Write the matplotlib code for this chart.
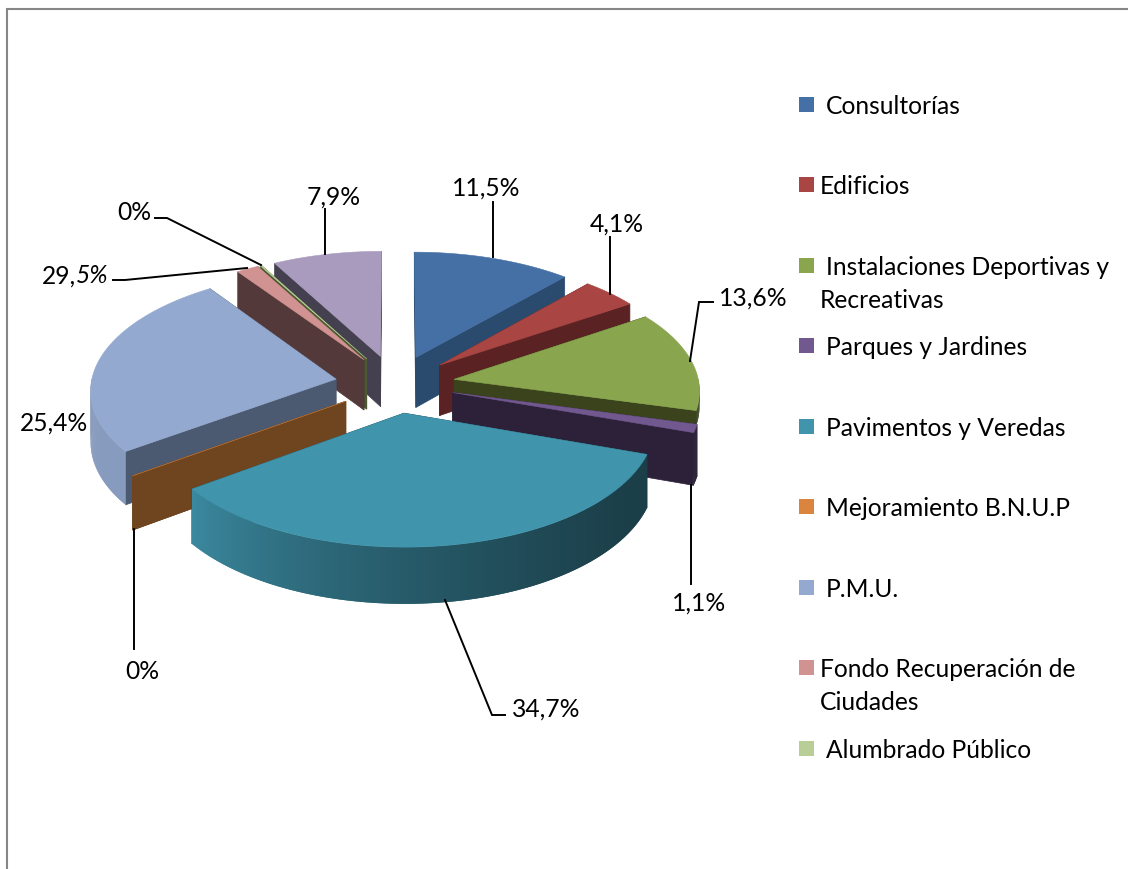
import numpy as np
import matplotlib
matplotlib.use("Agg")
import matplotlib.pyplot as plt
from matplotlib.colors import to_rgb
from matplotlib.patches import Polygon, Rectangle

plt.rcParams["font.family"] = ["Lato", "DejaVu Sans"]

# -----------------------------------------
# data
# -----------------------------------------
categories = [
    "Consultorías",
    "Edificios",
    "Instalaciones Deportivas y\nRecreativas",
    "Parques y Jardines",
    "Pavimentos y Veredas",
    "Mejoramiento B.N.U.P",
    "P.M.U.",
    "Fondo Recuperación de\nCiudades",
    "Alumbrado Público",
]
# share drawn for each slice (the last slice has no legend entry)
values = [11.5, 4.1, 13.6, 1.1, 34.7, 0.0, 25.4, 1.6, 0.1, 7.9]
top_colors = ["#4470A5", "#A94543", "#89A54E", "#71588F", "#4095AD",
              "#DB843D", "#93A9CF", "#D19392", "#B9CD96", "#A99BBD"]
side_colors = ["#2A4A6E", "#5A2222", "#3A431C", "#2C2139", "#1B3D49",
               "#6F4520", "#4B5A70", "#533939", "#4A5A30", "#45404F"]
# back to front
draw_order = [9, 8, 7, 0, 1, 2, 3, 6, 5, 4]

# -----------------------------------------
# pie geometry, all in pixels
# -----------------------------------------
cx, cy = 395, 385
rx, ry = 245, 118
persp = 0.0815
explode = 0.245
depth = 51
# the green rim ends on top of the purple slice
rim_depth = {2: 15}


def project(x, y, z=0.0):
    f = 1 / (1 + persp * y)
    return cx + rx * x * f, cy - ry * y * f + z * f


def shade(color, theta):
    # the rim is lit from the left
    t = np.clip((theta - 115) / (234 - 115), 0, 1)
    factor = 0.42 + 0.5 * t ** 1.6
    return tuple(c * factor for c in to_rgb(color))


fig = plt.figure(figsize=(11.28, 8.7), dpi=100)
ax = fig.add_axes([0, 0, 1, 1])
ax.set_xlim(0, 1128)
ax.set_ylim(870, 0)
ax.axis("off")

# frame, only top and left are visible
ax.plot([7, 7, 1128], [870, 10, 10], color="#868686", lw=1.5, solid_joinstyle="miter")

edges = np.cumsum([0] + values) / 100 * 360

for i in draw_order:
    start, end = edges[i], edges[i + 1]
    mid = np.radians((start + end) / 2)
    ox, oy = explode * np.sin(mid), explode * np.cos(mid)
    thetas = np.linspace(start, end, max(int(end - start) * 2, 2))
    xs = ox + np.sin(np.radians(thetas))
    ys = oy + np.cos(np.radians(thetas))

    # cut faces
    for k in (0, -1):
        face = [project(ox, oy), project(xs[k], ys[k]),
                project(xs[k], ys[k], depth), project(ox, oy, depth)]
        ax.add_patch(Polygon(face, fc=side_colors[i], ec=side_colors[i], lw=0.5))

    # rim, only the part turned to the viewer
    # each quad runs over the next one so no seams show
    rim = rim_depth.get(i, depth)
    for j in range(len(thetas) - 1):
        if thetas[j + 1] < 90 or thetas[j] > 270:
            continue
        n = min(j + 2, len(thetas) - 1)
        quad = [project(xs[j], ys[j]), project(xs[n], ys[n]),
                project(xs[n], ys[n], rim), project(xs[j], ys[j], rim)]
        c = shade(top_colors[i], (thetas[j] + thetas[j + 1]) / 2)
        ax.add_patch(Polygon(quad, fc=c, ec="none"))

    # top
    top = [project(ox, oy)] + [project(x, y) for x, y in zip(xs, ys)]
    ax.add_patch(Polygon(top, fc=top_colors[i], ec=top_colors[i], lw=0.4))

# -----------------------------------------
# data labels with leader lines
# -----------------------------------------
fs = 17.7
leaders = [
    ([493, 493], [203, 258]),
    ([610, 610], [238, 295]),
    ([713, 699, 690], [303, 303, 362]),
    ([691, 691], [486, 585]),
    ([505, 492, 445], [716, 716, 601]),
    ([134, 134], [530, 650]),
    ([113, 125, 247], [281, 281, 269]),
    ([155, 167, 261], [219, 219, 266]),
    ([325, 325], [210, 255]),
]
for lx, ly in leaders:
    ax.plot(lx, ly, color="black", lw=1.4, solid_joinstyle="miter")

data_labels = [
    ("11,5%", 486, 188),
    ("4,1%", 617, 224),
    ("13,6%", 753, 298),
    ("1,1%", 699, 603),
    ("34,7%", 546, 709),
    ("0%", 142, 672),
    ("25,4%", 54, 423),
    ("0%", 134, 213),
    ("7,9%", 334, 197),
]
for txt, tx, ty in data_labels:
    ax.text(tx, ty, txt, fontsize=fs, ha="center", va="center", color="black")
ax.text(76, 276, "29,", fontsize=fs, ha="right", va="center", color="black")
ax.text(76, 276, "5%", fontsize=fs, ha="left", va="center", color="black", style="italic")

# -----------------------------------------
# legend
# -----------------------------------------
legend_y = [105, 185, 266, 346, 427, 507, 588, 668, 749]
legend_x = [826, 820, 826, 826, 826, 826, 826, 820, 826]
for name, color, ty, tx in zip(categories, top_colors, legend_y, legend_x):
    ax.add_patch(Rectangle((799, ty - 7), 15, 15, fc=color, ec="none"))
    lines = name.split("\n")
    ax.text(tx, ty + 2, lines[0], fontsize=fs, ha="left", va="center", color="black")
    if len(lines) > 1:
        ax.text(820, ty + 35, lines[1], fontsize=fs, ha="left", va="center", color="black")

fig.savefig("out.png", dpi=100)
